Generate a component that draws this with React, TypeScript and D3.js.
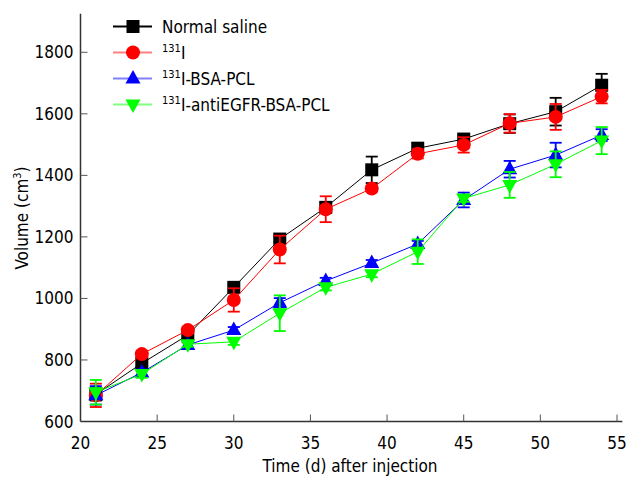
import React from "react";
import * as d3 from "d3";

const days = [21, 24, 27, 30, 33, 36, 39, 42, 45, 48, 51, 54];
const salineVals = [688, 789, 881, 1036, 1193, 1296, 1418, 1488, 1518, 1568, 1607, 1693];
const salineErr = [20, 10, 10, 10, 10, 15, 43, 18, 15, 30, 45, 37];
const iodineVals = [685, 819, 897, 995, 1159, 1290, 1357, 1470, 1499, 1569, 1590, 1656];
const iodineErr = [38, 10, 10, 38, 45, 42, 10, 15, 25, 30, 42, 22];
const bsaVals = [685, 759, 849, 897, 986, 1057, 1115, 1177, 1320, 1420, 1466, 1531];
const bsaErr = [30, 10, 8, 10, 15, 10, 10, 10, 24, 27, 40, 19];
const egfrVals = [695, 754, 851, 859, 952, 1036, 1079, 1152, 1325, 1369, 1436, 1513];
const egfrErr = [40, 12, 8, 10, 58, 10, 10, 40, 11, 42, 42, 44];

const xTicks = [20, 25, 30, 35, 40, 45, 50, 55];
const yTicks = [600, 800, 1000, 1200, 1400, 1600, 1800];

const FONT = "'DejaVu Sans Condensed', 'DejaVu Sans', sans-serif";

type Series = { name: string; sup: string; color: string; legendColor: string; shape: string; vals: number[]; err: number[] };

const series: Series[] = [
  { name: "Normal saline", sup: "", color: "#000000", legendColor: "#000000", shape: "square", vals: salineVals, err: salineErr },
  { name: "I", sup: "131", color: "#ff0000", legendColor: "#ff8080", shape: "circle", vals: iodineVals, err: iodineErr },
  { name: "I-BSA-PCL", sup: "131", color: "#0000ff", legendColor: "#8080ff", shape: "up", vals: bsaVals, err: bsaErr },
  { name: "I-antiEGFR-BSA-PCL", sup: "131", color: "#00ff00", legendColor: "#80ff80", shape: "down", vals: egfrVals, err: egfrErr },
];

function Marker({ shape, x, y, color }: { shape: string; x: number; y: number; color: string }) {
  if (shape === "square") return <rect x={x - 6.5} y={y - 6.5} width={13} height={13} fill={color} />;
  if (shape === "circle") return <circle cx={x} cy={y} r={7} fill={color} />;
  if (shape === "up") return <path d={`M${x},${y - 8.5} L${x + 7.5},${y + 5} L${x - 7.5},${y + 5} Z`} fill={color} />;
  return <path d={`M${x},${y + 8.5} L${x + 7.5},${y - 5} L${x - 7.5},${y - 5} Z`} fill={color} />;
}

export default function App() {
  const W = 627, H = 477;
  const x = d3.scaleLinear().domain([20, 55]).range([80.5, 617]);
  const y = d3.scaleLinear().domain([600, 1800]).range([421.5, 52.3]);
  const xEnd = x(55.35);
  const yTop = y(1925);
  const line = d3.line<number>().x((_, i) => x(days[i])).y((v) => y(v));
  const legendY = [26.5, 52.5, 78.5, 104.5];

  return (
    <svg width={W} height={H} style={{ position: "absolute", left: 0, top: 0 }} fontFamily={FONT}>
      <rect width={W} height={H} fill="#fff" />
      <line x1={x(20)} x2={xEnd} y1={y(600)} y2={y(600)} stroke="#333" strokeWidth={1.5} />
      <line x1={x(20)} x2={x(20)} y1={y(600)} y2={yTop} stroke="#333" strokeWidth={1.5} />
      {xTicks.map((t) => (
        <g key={"x" + t}>
          {t !== 20 && <line x1={x(t)} x2={x(t)} y1={y(600)} y2={y(600) - 7} stroke="#555" strokeWidth={1} />}
          <text x={x(t)} y={449} textAnchor="middle" fontSize={17} fill="#000">{t}</text>
        </g>
      ))}
      {yTicks.map((t) => (
        <g key={"y" + t}>
          {t !== 600 && <line x1={x(20)} x2={x(20) + 7} y1={y(t)} y2={y(t)} stroke="#555" strokeWidth={1} />}
          <text x={73.5} y={y(t) + 6} textAnchor="end" fontSize={17} fill="#000">{t}</text>
        </g>
      ))}
      <text x={350} y={472} textAnchor="middle" fontSize={17} fill="#000">Time (d) after injection</text>
      <text transform={`translate(28,218) rotate(-90)`} textAnchor="middle" fontSize={17} fill="#000">
        Volume (cm<tspan fontSize={11} dy={-7}>3</tspan><tspan dy={7}>)</tspan>
      </text>
      {series.map((s) => (
        <g key={s.name}>
          <path d={line(s.vals) || ""} fill="none" stroke={s.color} strokeWidth={1} />
          {s.vals.map((v, i) => {
            const cx = x(days[i]);
            const t = y(v + s.err[i]);
            const b = y(v - s.err[i]);
            return (
              <g key={i}>
                <line x1={cx} x2={cx} y1={t} y2={b} stroke={s.color} strokeWidth={1.8} />
                <line x1={cx - 6} x2={cx + 6} y1={t} y2={t} stroke={s.color} strokeWidth={1.8} />
                <line x1={cx - 6} x2={cx + 6} y1={b} y2={b} stroke={s.color} strokeWidth={1.8} />
                <Marker shape={s.shape} x={cx} y={y(v)} color={s.color} />
              </g>
            );
          })}
        </g>
      ))}
      {series.map((s, i) => (
        <g key={"lg" + i}>
          <line x1={113} x2={152} y1={legendY[i]} y2={legendY[i]} stroke={s.legendColor} strokeWidth={2} />
          <Marker shape={s.shape} x={133} y={legendY[i]} color={s.color} />
          <text x={162} y={legendY[i] + 6} fontSize={17} fill="#000">
            {s.sup && <tspan fontSize={11} dy={-7}>{s.sup}</tspan>}
            <tspan dy={s.sup ? 7 : 0}>{s.name}</tspan>
          </text>
        </g>
      ))}
    </svg>
  );
}
